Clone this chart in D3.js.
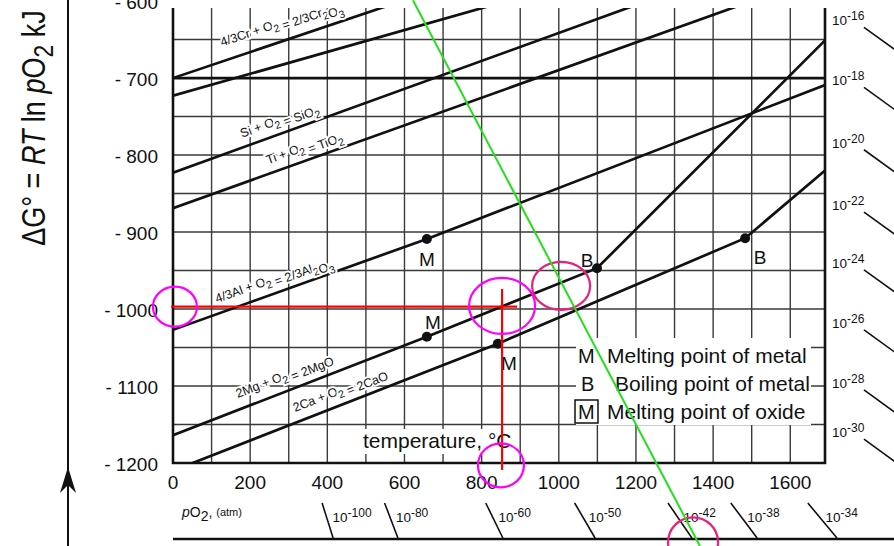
<!DOCTYPE html>
<html lang="en">
<head>
<meta charset="utf-8">
<title>Ellingham diagram</title>
<script src="https://cdn.jsdelivr.net/npm/d3@7"></script>
<style>
  body { margin: 0; background: #fff; }
  svg { display: block; font-family: "Liberation Sans", Arial, sans-serif; }
</style>
</head>
<body>
<script>
// ---- values (temperature in °C, dG in kJ) ----
var tempTicks = [0, 200, 400, 600, 800, 1000, 1200, 1400, 1600];
var dgTicks = [-600, -700, -800, -900, -1000, -1100, -1200];

var crLine = [[0, -700], [640, -592]];
var upperLine = [[0, -723], [900, -595]];
var siLine = [[0, -823], [1250, -596]];
var tiLine = [[0, -869], [1500, -600]];
var alLine = [[0, -1027], [658, -909], [1690, -709]];
var mgLine = [[0, -1164], [658, -1036], [1099, -947], [1690, -651]];
var caLine = [[0, -1210], [842, -1045], [1483, -908], [1690, -820]];
var refLine = [[0, -700], [1690, -700]];

var reactionNames = ["4/3Cr + O_2 = 2/3Cr_2O_3", "", "Si + O_2 = SiO_2", "Ti + O_2 = TiO_2",
  "4/3Al + O_2 = 2/3Al_2O_3", "2Mg + O_2 = 2MgO", "2Ca + O_2 = 2CaO"];

// melting (M) / boiling (B) points
var markers = [[658, -909, "M"], [658, -1036, "M"], [1099, -947, "B"], [842, -1045, "M"], [1483, -908, "B"]];

// red guide lines, rings, green pO2 line
var guideH = [[-5, -997], [892, -997]];
var guideV = [[853, -974], [853, -1209]];
var rings = [[5, -997], [853, -996], [1006, -970], [850, -1203], [1348, -1303]];
var po2Line = [[622, -599], [1366, -1308]];

// pO2 nomogram scales
var bottomExp = [-100, -80, -60, -50, -42, -38, -34];
var bottomAt = [415, 583, 855, 1094, 1345, 1514, 1721];
var rightExp = [-16, -18, -20, -22, -24, -26, -28, -30];
var rightAt = [-625, -703, -784, -865, -940, -1018, -1096, -1160];

var legendRows = [["M", "Melting point of metal"], ["B", "Boiling point of metal"], ["M", "Melting point of oxide"]];

// ---- layout ----
var width = 894, height = 546;
var plotL = 173, plotR = 825, plotT = 8, plotB = 463;

var svg = d3.select("body").append("svg").attr("width", width).attr("height", height);

var x = d3.scaleLinear().domain([0, 1690]).range([plotL, plotR]);
var y = d3.scaleLinear().domain([-1200, -609]).range([plotB, plotT]);

svg.append("clipPath").attr("id", "plot")
  .append("rect").attr("x", plotL).attr("y", plotT).attr("width", plotR - plotL).attr("height", plotB - plotT);

var line = d3.line().x(function (d) { return x(d[0]); }).y(function (d) { return y(d[1]); });

// grid
var grid = svg.append("g").attr("clip-path", "url(#plot)")
  .attr("stroke", "#3a3a3a").attr("stroke-width", 1.4);
grid.selectAll(".vg").data(d3.range(100, 1700, 100)).enter().append("line")
  .attr("x1", function (d) { return x(d); }).attr("x2", function (d) { return x(d); })
  .attr("y1", plotT).attr("y2", plotB);
grid.selectAll(".hg").data(d3.range(-1150, -600, 50)).enter().append("line")
  .attr("y1", function (d) { return y(d); }).attr("y2", function (d) { return y(d); })
  .attr("x1", plotL).attr("x2", plotR);

// white boxes behind legend and axis caption
svg.append("rect").attr("x", 576).attr("y", 338).attr("width", 235).attr("height", 87).attr("fill", "#fff");
svg.append("rect").attr("x", 340).attr("y", 429).attr("width", 176).attr("height", 25).attr("fill", "#fff");

// frame
svg.append("path")
  .attr("d", "M" + plotL + "," + plotT + "V" + plotB + "H" + plotR + "V" + plotT)
  .attr("fill", "none").attr("stroke", "#111").attr("stroke-width", 2.6);

// reaction lines
var reactions = [crLine, upperLine, siLine, tiLine, alLine, mgLine, caLine];
var lines = svg.append("g").attr("clip-path", "url(#plot)");
lines.selectAll("path").data(reactions.concat([refLine])).enter().append("path")
  .attr("d", line).attr("fill", "none").attr("stroke", "#111").attr("stroke-width", 2.7);

// reaction labels, placed along each line
var labelAt = [127, 0, 179, 246, 114, 168, 316];
var labelLift = [15, 0, 10, 10, 11, 12, 11];

function lineY(pts, t) {
  for (var i = 1; i < pts.length; i++) {
    if (t <= pts[i][0] || i == pts.length - 1) {
      var a = pts[i - 1], b = pts[i];
      return a[1] + (b[1] - a[1]) * (t - a[0]) / (b[0] - a[0]);
    }
  }
}

function addChem(sel, str, size) {
  // "_" marks the next character as a subscript
  var parts = str.split(/(_.)/);
  parts.forEach(function (p) {
    if (!p) return;
    if (p[0] == "_") {
      sel.append("tspan").attr("dy", size * 0.3).attr("font-size", size * 0.85).text(p[1]);
      sel.append("tspan").attr("dy", -size * 0.3).text("");
    } else {
      sel.append("tspan").text(p);
    }
  });
}

reactions.forEach(function (pts, i) {
  if (!reactionNames[i]) return;
  var a = pts[0], b = pts[1];
  var ang = Math.atan2(y(b[1]) - y(a[1]), x(b[0]) - x(a[0])) * 180 / Math.PI;
  var px = x(labelAt[i]), py = y(lineY(pts, labelAt[i])) - labelLift[i];
  var t = svg.append("text")
    .attr("transform", "translate(" + px + "," + py + ") rotate(" + ang + ")")
    .attr("font-size", 12.5).attr("fill", "#111")
    .attr("stroke", "#fff").attr("stroke-width", 4).attr("paint-order", "stroke");
  addChem(t, reactionNames[i], 12.5);
});

// melting / boiling points
var markOffset = [[0, 20], [6, -15], [-10, -8], [11, 19], [15, 19]];
svg.selectAll(".dot").data(markers).enter().append("circle")
  .attr("cx", function (d) { return x(d[0]); }).attr("cy", function (d) { return y(d[1]); })
  .attr("r", 5).attr("fill", "#111");
svg.selectAll(".mlab").data(markers).enter().append("text")
  .attr("x", function (d, i) { return x(d[0]) + markOffset[i][0]; })
  .attr("y", function (d, i) { return y(d[1]) + markOffset[i][1] + 7; })
  .attr("text-anchor", "middle").attr("font-size", 19).attr("fill", "#111")
  .text(function (d) { return d[2]; });

// legend
var legendBase = [363, 391, 419];
var legendKeyX = [578, 581, 578];
var legendTextX = [607, 615, 607];
legendRows.forEach(function (r, i) {
  svg.append("text").attr("x", legendKeyX[i]).attr("y", legendBase[i])
    .attr("font-size", 20).attr("fill", "#111").text(r[0]);
  svg.append("text").attr("x", legendTextX[i]).attr("y", legendBase[i])
    .attr("font-size", 21).attr("fill", "#111").text(r[1]);
});
svg.append("rect").attr("x", 575).attr("y", 400).attr("width", 23).attr("height", 23)
  .attr("fill", "none").attr("stroke", "#111").attr("stroke-width", 1.5);

svg.append("text").attr("x", 363).attr("y", 448).attr("font-size", 21).attr("fill", "#111")
  .text("temperature, °C");

// axis tick labels
svg.selectAll(".xt").data(tempTicks).enter().append("text")
  .attr("x", function (d) { return x(d); }).attr("y", 489)
  .attr("text-anchor", "middle").attr("font-size", 19).attr("fill", "#111")
  .text(function (d) { return d; });
svg.selectAll(".yt").data(dgTicks).enter().append("text")
  .attr("x", 158).attr("y", function (d) { return y(d) + 8; })
  .attr("text-anchor", "end").attr("font-size", 19).attr("fill", "#111")
  .text(function (d) { return "- " + Math.abs(d); });

// y axis title
var title = svg.append("text").attr("transform", "translate(45,128) rotate(-90) scale(1,1.2)")
  .attr("text-anchor", "middle").attr("font-size", 27).attr("fill", "#111");
title.append("tspan").text("ΔG° = ");
title.append("tspan").attr("font-style", "italic").text("RT");
title.append("tspan").text(" ln ");
title.append("tspan").attr("font-style", "italic").text("p");
title.append("tspan").text("O");
title.append("tspan").attr("dy", 7).attr("font-size", 23).text("2");
title.append("tspan").attr("dy", -7).text(" kJ");

// long arrow on the left
svg.append("line").attr("x1", 68).attr("x2", 68).attr("y1", 0).attr("y2", height)
  .attr("stroke", "#111").attr("stroke-width", 2);
svg.append("path").attr("d", "M60,493L68,467L76,493L68,485Z").attr("fill", "#111");

// bottom pO2 scale
var po2 = svg.append("text").attr("x", 182).attr("y", 517).attr("fill", "#111").attr("font-size", 14);
po2.append("tspan").attr("font-style", "italic").text("p");
po2.append("tspan").text("O");
po2.append("tspan").attr("dy", 4).text("2");
po2.append("tspan").attr("dy", -4).text(", ");
po2.append("tspan").attr("font-size", 11).attr("dy", -1).text("(atm)");

svg.append("line").attr("x1", plotL).attr("x2", width).attr("y1", 539).attr("y2", 539)
  .attr("stroke", "#111").attr("stroke-width", 2.6);

svg.selectAll(".bt").data(bottomAt).enter().append("line")
  .attr("x1", function (d) { return x(d) - (11 + 0.036 * (x(d) - 333)); })
  .attr("y1", 503)
  .attr("x2", function (d) { return x(d); }).attr("y2", 538)
  .attr("stroke", "#111").attr("stroke-width", 1.6);
bottomAt.forEach(function (d, i) {
  var lean = 11 + 0.036 * (x(d) - 333);
  var t = svg.append("text").attr("x", x(d) - lean * 0.6 + 6).attr("y", 522)
    .attr("font-size", 13.5).attr("fill", "#111");
  t.append("tspan").text("10");
  t.append("tspan").attr("dy", -5).attr("font-size", 12).text(bottomExp[i]);
});

// right pO2 scale
rightAt.forEach(function (d, i) {
  var yc = y(d);
  var t = svg.append("text").attr("x", 832).attr("y", yc + 5).attr("font-size", 13.5).attr("fill", "#111");
  t.append("tspan").text("10");
  t.append("tspan").attr("dy", -5).attr("font-size", 12).text(rightExp[i]);
  svg.append("line").attr("x1", 864).attr("y1", yc + 7).attr("x2", 904).attr("y2", yc + 36)
    .attr("stroke", "#111").attr("stroke-width", 1.6);
});

// highlight overlays
svg.append("path").attr("d", line(guideH)).attr("stroke", "#ff0000").attr("stroke-width", 2.2).attr("fill", "none");
svg.append("path").attr("d", line(guideV)).attr("stroke", "#ff0000").attr("stroke-width", 2.2).attr("fill", "none");

var ringStyle = [
  { rx: 22, ry: 20, c: "#ff00ff" },
  { rx: 33, ry: 28, c: "#ff00ff" },
  { rx: 29, ry: 24, c: "#e8207f" },
  { rx: 23, ry: 22, c: "#ff00ff" },
  { rx: 25, ry: 25, c: "#e8207f" }
];
svg.selectAll(".ring").data(rings).enter().append("ellipse")
  .attr("cx", function (d) { return x(d[0]); }).attr("cy", function (d) { return y(d[1]); })
  .attr("rx", function (d, i) { return ringStyle[i].rx; })
  .attr("ry", function (d, i) { return ringStyle[i].ry; })
  .attr("fill", "none").attr("stroke", function (d, i) { return ringStyle[i].c; })
  .attr("stroke-width", 2.2);

svg.append("path").attr("d", line(po2Line)).attr("stroke", "#22e01a").attr("stroke-width", 2).attr("fill", "none");
</script>
</body>
</html>
